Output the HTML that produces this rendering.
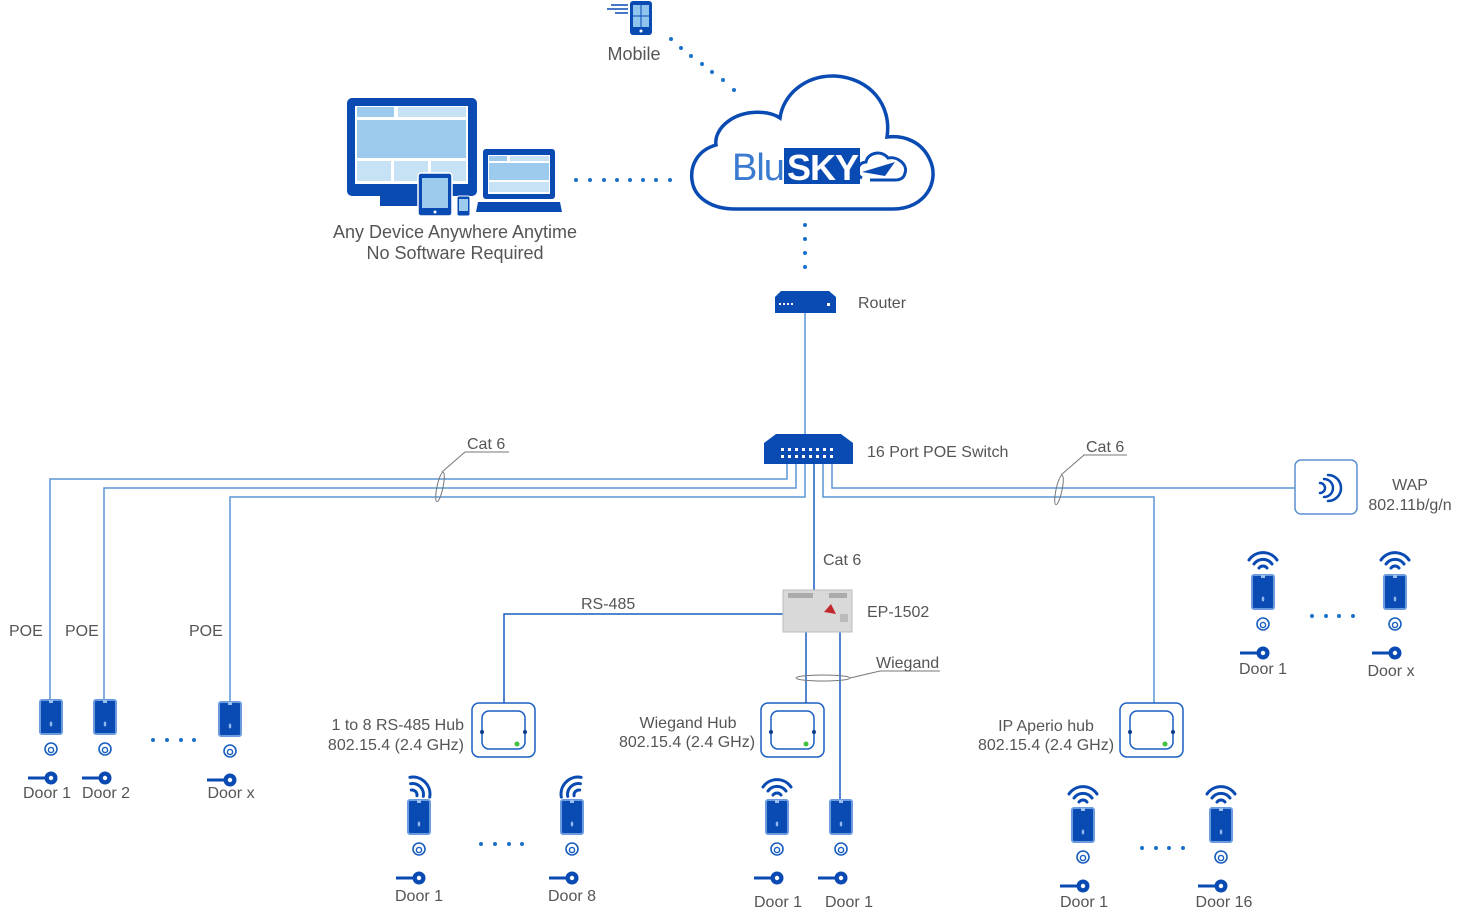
<!DOCTYPE html>
<html><head><meta charset="utf-8"><style>
html,body{margin:0;padding:0;background:#fff;}
svg{display:block;}
text{font-family:"Liberation Sans",sans-serif;font-size:16px;fill:#555;}
</style></head><body>
<svg width="1464" height="919" viewBox="0 0 1464 919" xmlns="http://www.w3.org/2000/svg">
<defs>
<g id="rd">
<rect x="0" y="0" width="22" height="34" rx="2" fill="#0a4bb3" stroke="#6c9be0" stroke-width="2"/>
<rect x="9" y="0" width="4" height="3" fill="#9cc0f0"/>
<ellipse cx="11" cy="24" rx="1.3" ry="2.5" fill="#8fb6ee"/>
<circle cx="11" cy="49" r="6" fill="none" stroke="#1a5fc0" stroke-width="1.6"/>
<circle cx="11" cy="50" r="2.6" fill="none" stroke="#1a5fc0" stroke-width="1.4"/>
<line x1="-12" y1="78" x2="8" y2="78" stroke="#0a4bb3" stroke-width="3"/>
<circle cx="11" cy="78" r="6.5" fill="#0a4bb3"/>
<circle cx="11" cy="78" r="2.2" fill="#fff"/>
</g>
<g id="wf" fill="none" stroke="#0a4bb3" stroke-width="3" stroke-linecap="round">
<path d="M-4,-3 A5,5 0 0 1 4,-3"/>
<path d="M-9,-7 A11,11 0 0 1 9,-7"/>
<path d="M-14,-11 A17,17 0 0 1 14,-11"/>
</g>
<g id="hub">
<rect x="0" y="0" width="63" height="54" rx="7" fill="#fff" stroke="#1a5fc0" stroke-width="1.5"/>
<rect x="10" y="8" width="43" height="38" rx="7" fill="#fff" stroke="#1a5fc0" stroke-width="1.5"/>
<circle cx="10" cy="29" r="2" fill="#0a3b8a"/>
<circle cx="53" cy="29" r="2" fill="#0a3b8a"/>
<circle cx="45" cy="41" r="2.5" fill="#44c040"/>
</g>
</defs>

<!-- Mobile -->
<rect x="630" y="1" width="22" height="34" rx="3" fill="#0a4bb3"/>
<rect x="633" y="5" width="16" height="22" fill="#8fc4ee"/>
<line x1="641" y1="5" x2="641" y2="27" stroke="#0a4bb3" stroke-width="1"/>
<line x1="633" y1="16" x2="649" y2="16" stroke="#0a4bb3" stroke-width="1"/>
<circle cx="641" cy="31" r="1.5" fill="#fff"/>
<line x1="611" y1="5" x2="628" y2="5" stroke="#0a4bb3" stroke-width="1.5"/>
<line x1="607" y1="9" x2="628" y2="9" stroke="#0a4bb3" stroke-width="1.5"/>
<line x1="615" y1="13" x2="628" y2="13" stroke="#0a4bb3" stroke-width="1.5"/>
<text x="634" y="60" text-anchor="middle" style="font-size:18px">Mobile</text>

<!-- dotted lines -->
<g fill="#1a6fc9">
<circle cx="671" cy="39" r="2"/><circle cx="681" cy="48" r="2"/><circle cx="691" cy="56" r="2"/><circle cx="702" cy="64" r="2"/><circle cx="712" cy="72" r="2"/><circle cx="723" cy="80" r="2"/><circle cx="734" cy="90" r="2"/>
<circle cx="576" cy="180" r="2"/><circle cx="590" cy="180" r="2"/><circle cx="604" cy="180" r="2"/><circle cx="617" cy="180" r="2"/><circle cx="630" cy="180" r="2"/><circle cx="643" cy="180" r="2"/><circle cx="656" cy="180" r="2"/><circle cx="670" cy="180" r="2"/>
<circle cx="805" cy="225" r="2"/><circle cx="805" cy="239" r="2"/><circle cx="805" cy="253" r="2"/><circle cx="805" cy="267" r="2"/>
<circle cx="153" cy="740" r="2"/><circle cx="167" cy="740" r="2"/><circle cx="181" cy="740" r="2"/><circle cx="194" cy="740" r="2"/>
<circle cx="481" cy="844" r="2"/><circle cx="495" cy="844" r="2"/><circle cx="509" cy="844" r="2"/><circle cx="522" cy="844" r="2"/>
<circle cx="1142" cy="848" r="2"/><circle cx="1156" cy="848" r="2"/><circle cx="1169" cy="848" r="2"/><circle cx="1183" cy="848" r="2"/>
<circle cx="1312" cy="616" r="2"/><circle cx="1326" cy="616" r="2"/><circle cx="1339" cy="616" r="2"/><circle cx="1353" cy="616" r="2"/>
</g>

<!-- Cloud -->
<path d="M735,209 L893,209 C925,209 940,182 930,160 C922,142 905,135 887,137 C892,105 870,78 835,76 C805,75 783,95 780,118 C768,110 745,110 730,120 C718,128 715,138 716,145 C698,150 690,165 692,180 C694,198 712,209 735,209 Z" fill="#fff" stroke="#0a4bb3" stroke-width="3.5"/>
<text x="732" y="180" style="font-size:38px;fill:#3a7ad0;letter-spacing:-1px">Blu</text>
<rect x="784" y="148" width="76" height="36" fill="#0a4bb3"/>
<text x="787" y="180" style="font-size:36px;fill:#fff;font-weight:bold;letter-spacing:-1px">SKY</text>
<path d="M862,178 C855,175 856,163 866,162 C868,152 882,150 888,158 C898,156 908,165 905,173 C904,178 900,180 895,180 L870,180" fill="none" stroke="#0a4bb3" stroke-width="3"/>
<path d="M862,172 L895,162 L885,176 Z" fill="#0a4bb3"/>

<!-- Devices -->
<rect x="347" y="98" width="130" height="98" rx="5" fill="#0a4bb3"/>
<rect x="355" y="106" width="113" height="78" fill="#fff"/>
<rect x="357" y="107" width="37" height="10" fill="#9ccbed"/><rect x="398" y="107" width="68" height="10" fill="#c8e2f5"/>
<rect x="357" y="120" width="109" height="38" fill="#9ccbed"/>
<rect x="357" y="161" width="34" height="20" fill="#c8e2f5"/><rect x="394" y="161" width="34" height="20" fill="#c8e2f5"/><rect x="431" y="161" width="35" height="20" fill="#c8e2f5"/>
<rect x="380" y="196" width="40" height="10" fill="#0a4bb3"/>
<rect x="418" y="173" width="34" height="43" rx="3" fill="#0a4bb3" stroke="#fff" stroke-width="1.5"/>
<rect x="422" y="178" width="26" height="30" fill="#9ccbed"/>
<circle cx="435" cy="212" r="1.5" fill="#fff"/>
<rect x="457" y="196" width="13" height="20" rx="2" fill="#0a4bb3" stroke="#fff" stroke-width="1"/>
<rect x="459" y="199" width="9" height="12" fill="#9ccbed"/>
<rect x="483" y="149" width="72" height="50" rx="3" fill="#0a4bb3"/>
<rect x="488" y="155" width="62" height="39" fill="#fff"/>
<rect x="489" y="156" width="18" height="5" fill="#9ccbed"/><rect x="510" y="156" width="39" height="5" fill="#c8e2f5"/>
<rect x="489" y="163" width="60" height="17" fill="#9ccbed"/>
<rect x="489" y="182" width="60" height="10" fill="#c8e2f5"/>
<path d="M478,202 L560,202 L562,212 L476,212 Z" fill="#0a4bb3"/>
<text x="455" y="238" text-anchor="middle" style="font-size:18px">Any Device Anywhere Anytime</text>
<text x="455" y="259" text-anchor="middle" style="font-size:18px">No Software Required</text>

<!-- Router -->
<path d="M781,291 L829,291 L836,297 L775,297 Z" fill="#0a4bb3"/>
<rect x="775" y="297" width="61" height="16" fill="#0a4bb3"/>
<g fill="#fff"><rect x="779" y="303" width="2" height="2"/><rect x="783" y="303" width="2" height="2"/><rect x="787" y="303" width="2" height="2"/><rect x="791" y="303" width="2" height="2"/><rect x="827" y="303" width="3" height="3"/></g>
<text x="858" y="308">Router</text>

<!-- lines -->
<g fill="none" stroke="#5b95d5" stroke-width="1.5">
<line x1="805" y1="313" x2="805" y2="435"/>
<polyline points="787,463 787,479 50,479 50,700"/>
<polyline points="796,463 796,488 104,488 104,700"/>
<polyline points="805,463 805,497 230,497 230,702"/>
<polyline points="823,463 823,497 1154,497 1154,703"/>
<polyline points="832,463 832,488 1295,488"/>
</g>
<g fill="none" stroke="#1a5fc0" stroke-width="1.5">
<line x1="814" y1="463" x2="814" y2="590"/>
<polyline points="783,614 504,614 504,703"/>
<line x1="806" y1="632" x2="806" y2="703"/>
<line x1="840" y1="632" x2="840" y2="800"/>
</g>

<!-- Switch -->
<path d="M776,434 L841,434 L853,443 L764,443 Z" fill="#0a4bb3"/>
<rect x="764" y="443" width="89" height="21" fill="#0a4bb3"/>
<g fill="#fff">
<rect x="781" y="448" width="3" height="3"/><rect x="788" y="448" width="3" height="3"/><rect x="795" y="448" width="3" height="3"/><rect x="802" y="448" width="3" height="3"/><rect x="809" y="448" width="3" height="3"/><rect x="816" y="448" width="3" height="3"/><rect x="823" y="448" width="3" height="3"/><rect x="830" y="448" width="3" height="3"/>
<rect x="781" y="455" width="3" height="3"/><rect x="788" y="455" width="3" height="3"/><rect x="795" y="455" width="3" height="3"/><rect x="802" y="455" width="3" height="3"/><rect x="809" y="455" width="3" height="3"/><rect x="816" y="455" width="3" height="3"/><rect x="823" y="455" width="3" height="3"/><rect x="830" y="455" width="3" height="3"/>
</g>
<text x="867" y="457">16 Port POE Switch</text>

<!-- Cat6 callouts -->
<g fill="none" stroke="#777" stroke-width="1">
<ellipse cx="440" cy="487" rx="3" ry="15" transform="rotate(12 440 487)"/>
<polyline points="442,472 465,452 509,452"/>
<ellipse cx="1059" cy="490" rx="3" ry="15" transform="rotate(12 1059 490)"/>
<polyline points="1061,475 1084,455 1127,455"/>
<ellipse cx="823" cy="678" rx="27" ry="3"/>
<polyline points="850,678 880,671 940,671"/>
</g>
<text x="467" y="449">Cat 6</text>
<text x="1086" y="452">Cat 6</text>
<text x="876" y="668">Wiegand</text>
<text x="823" y="565">Cat 6</text>
<text x="581" y="609">RS-485</text>

<!-- EP-1502 -->
<rect x="783" y="590" width="69" height="42" fill="#d9d9d9" stroke="#bbb"/>
<rect x="788" y="593" width="25" height="5" fill="#aaa"/><rect x="829" y="593" width="18" height="5" fill="#aaa"/>
<path d="M824,612 L831,604 L836,614 Z" fill="#c0282d"/>
<rect x="840" y="614" width="8" height="8" fill="#bbb"/>
<text x="867" y="617">EP-1502</text>

<!-- WAP -->
<rect x="1295" y="460" width="62" height="54" rx="6" fill="#fff" stroke="#5b8fd0" stroke-width="1.5"/>
<g fill="none" stroke="#0a4bb3" stroke-width="2.5" stroke-linecap="round">
<path d="M1320,483 A5,5 0 0 1 1320,493"/>
<path d="M1324,479 A9,9 0 0 1 1324,497"/>
<path d="M1328,475 A13,13 0 0 1 1328,501"/>
</g>
<text x="1410" y="490" text-anchor="middle">WAP</text>
<text x="1410" y="510" text-anchor="middle">802.11b/g/n</text>

<!-- Hubs -->
<use href="#hub" x="472" y="703"/>
<use href="#hub" x="761" y="703"/>
<use href="#hub" x="1120" y="703"/>
<text x="464" y="730" text-anchor="end">1 to 8 RS-485 Hub</text>
<text x="464" y="750" text-anchor="end">802.15.4 (2.4 GHz)</text>
<text x="688" y="728" text-anchor="middle">Wiegand Hub</text>
<text x="687" y="747" text-anchor="middle">802.15.4  (2.4 GHz)</text>
<text x="1046" y="731" text-anchor="middle">IP Aperio hub</text>
<text x="1046" y="750" text-anchor="middle">802.15.4 (2.4 GHz)</text>

<!-- POE -->
<text x="9" y="636">POE</text>
<text x="65" y="636">POE</text>
<text x="189" y="636">POE</text>

<!-- Readers -->
<use href="#rd" x="40" y="700"/>
<use href="#rd" x="94" y="700"/>
<use href="#rd" x="219" y="702"/>
<use href="#rd" x="408" y="800"/>
<use href="#rd" x="561" y="800"/>
<use href="#rd" x="766" y="800"/>
<use href="#rd" x="830" y="800"/>
<use href="#rd" x="1072" y="808"/>
<use href="#rd" x="1210" y="808"/>
<use href="#rd" x="1252" y="575"/>
<use href="#rd" x="1384" y="575"/>

<!-- Wifi -->
<use href="#wf" transform="translate(412,795) rotate(45)"/>
<use href="#wf" transform="translate(579,795) rotate(-45)"/>
<use href="#wf" transform="translate(777,798)"/>
<use href="#wf" transform="translate(1083,805)"/>
<use href="#wf" transform="translate(1221,805)"/>
<use href="#wf" transform="translate(1263,571)"/>
<use href="#wf" transform="translate(1395,571)"/>

<!-- Door labels -->
<text x="47" y="798" text-anchor="middle">Door 1</text>
<text x="106" y="798" text-anchor="middle">Door 2</text>
<text x="231" y="798" text-anchor="middle">Door x</text>
<text x="419" y="901" text-anchor="middle">Door 1</text>
<text x="572" y="901" text-anchor="middle">Door 8</text>
<text x="778" y="907" text-anchor="middle">Door 1</text>
<text x="849" y="907" text-anchor="middle">Door 1</text>
<text x="1084" y="907" text-anchor="middle">Door 1</text>
<text x="1224" y="907" text-anchor="middle">Door 16</text>
<text x="1263" y="674" text-anchor="middle">Door 1</text>
<text x="1391" y="676" text-anchor="middle">Door x</text>
</svg>
</body></html>
